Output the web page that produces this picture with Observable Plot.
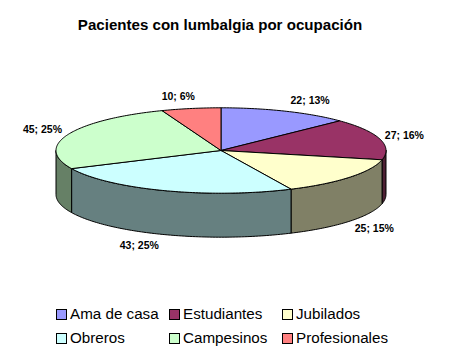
<!DOCTYPE html>
<html><head><meta charset="utf-8">
<script src="https://cdn.jsdelivr.net/npm/d3@7"></script>
<script src="https://cdn.jsdelivr.net/npm/@observablehq/plot@0.6"></script>
<style>
html,body{margin:0;padding:0;background:#fff;width:450px;height:356px;overflow:hidden;font-family:"Liberation Sans",Arial,sans-serif;color:#000}
#title{height:45px;box-sizing:border-box;padding-top:16px;text-align:center;font-weight:bold;font-size:15.1px;line-height:17px;width:440px}
#chart svg{display:block}
#legend{position:absolute;left:56px;top:302px;display:grid;grid-template-columns:113px 113px 113px;grid-auto-rows:24px;font-size:15.2px;line-height:24px}
#legend div{display:flex;align-items:center;white-space:nowrap}
#legend i{display:inline-block;box-sizing:border-box;width:11px;height:11px;border:1px solid #000;margin-right:3px}
</style></head><body>
<div id="title"></div><div id="chart"></div><div id="legend"></div>
<script>
const titleText = "Pacientes con lumbalgia por ocupación";
const categories = ["Ama de casa","Estudiantes","Jubilados","Obreros","Campesinos","Profesionales"];
const values = [22,27,25,43,45,10];
const percents = [13,16,15,25,25,6];
const topColors = ["#9999FF","#993366","#FFFFCC","#CCFFFF","#CCFFCC","#FF8080"];
const sideColors = ["#4D1F33","#4D1F33","#808066","#668080","#668066","#804040"];

const total = d3.sum(values);
const cum = d3.cumsum(values);
const slices = categories.map((c,i)=>({c,i,a0:((cum[i]-values[i])/total)*2*Math.PI,a1:(cum[i]/total)*2*Math.PI}));
const depth = 1.03; // wall height, in units of the ellipse's vertical radius
const rim = (a,d=0)=>({px:Math.sin(a),py:-Math.cos(a)+d});
function arc(a0,a1,d=0){
  const n=Math.max(2,Math.ceil((a1-a0)/(Math.PI/180)));
  return d3.range(n+1).map(k=>rim(a0+(a1-a0)*k/n,d));
}
const topPts=[], sidePts=[];
for(const s of slices){
  const pts=[{px:0,py:0},...arc(s.a0,s.a1),{px:0,py:0}];
  pts.forEach(p=>topPts.push({...p,k:"t"+s.i,color:s.c}));
  const lo=Math.max(s.a0,Math.PI/2), hi=Math.min(s.a1,3*Math.PI/2);
  if(hi>lo){
    const w=[...arc(lo,hi),...arc(lo,hi,depth).reverse()];
    w.push(w[0]);
    w.forEach(p=>sidePts.push({...p,k:"s"+s.i,color:s.c}));
  }
}
const labels = slices.map(s=>{
  const m=(s.a0+s.a1)/2, front=Math.cos(m)<0;
  const p=rim(m,front?depth:0);
  return {...p,side:Math.sin(m),up:-Math.cos(m),text:`${values[s.i]}; ${percents[s.i]}%`};
});
const labelMark = l=>{
  const nearTop=Math.abs(l.side)<0.25;
  const anchor=nearTop?"middle":(l.side>=0?"start":"end");
  const dx=nearTop?l.side*70:(l.side>=0?5:-6);
  return Plot.text([l],{x:"px",y:"py",text:"text",textAnchor:anchor,dx,dy:l.up*12,
    fontFamily:"Liberation Sans",fontWeight:"bold",fontSize:10.5,fill:"#000"});
};
const strokeAll={stroke:"#000",strokeWidth:1,strokeLinejoin:"round"};
const chart = Plot.plot({
  width:450,height:245,margin:0,
  style:{background:"transparent",overflow:"visible"},
  x:{domain:[-1,1],range:[55.5,385.5],axis:null},
  y:{domain:[-1,1],range:[107.3-45,192.7-45],axis:null},
  marks:[
    Plot.line(sidePts,{x:"px",y:"py",z:"k",fill:d=>sideColors[categories.indexOf(d.color)],...strokeAll,curve:"linear"}),
    Plot.line(topPts,{x:"px",y:"py",z:"k",fill:d=>topColors[categories.indexOf(d.color)],...strokeAll,curve:"linear"}),
    ...labels.map(labelMark)
  ]
});
document.getElementById("chart").append(chart);
document.getElementById("title").textContent=titleText;
const lg=document.getElementById("legend");
categories.forEach((c,i)=>{
  const d=document.createElement("div");
  const sw=document.createElement("i"); sw.style.background=topColors[i];
  d.append(sw,document.createTextNode(c)); lg.append(d);
});
</script></body></html>
